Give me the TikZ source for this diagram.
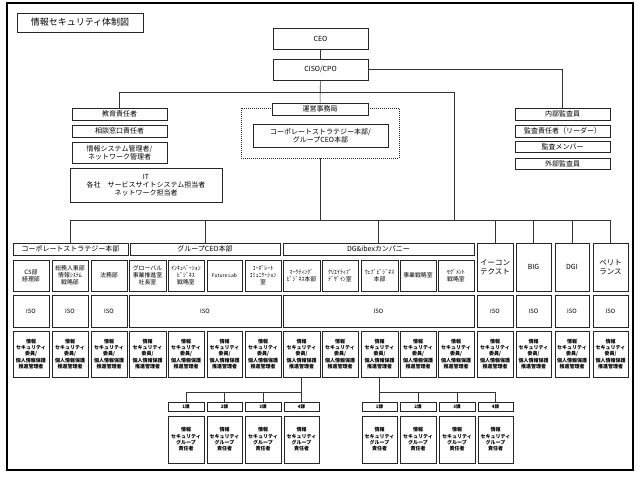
\documentclass[tikz,border=0pt]{standalone}
\usepackage{fontspec}
\setmainfont{Noto Sans CJK JP}
\tikzset{
  box/.style={draw=black!85, line width=0.6pt, fill=white, inner sep=0pt, outer sep=0pt,
    align=center, font=\fontsize{7}{8.2}\selectfont},
  dept/.style={font=\fontsize{5.9}{7}\selectfont},
  info/.style={font=\bfseries\fontsize{5}{6.4}\selectfont},
  sub/.style={font=\bfseries\fontsize{4.5}{5}\selectfont},
  ln/.style={draw=black!80, line width=0.6pt},
}
\newcommand\bx[7][]{\node[box,minimum width={(#5-#3)*1pt},minimum height={(#6-#4)*1pt},#1] (#2) at ({(#3+#5)/2},{(#4+#6)/2}) {#7};}
\begin{document}
\begin{tikzpicture}[x=1pt,y=-1pt]
\useasboundingbox (0,0) rectangle (640,480);
\draw[line width=1.3pt] (7,3) rectangle (633,470);
% title
\bx[font=\fontsize{9}{10}\selectfont]{title}{17}{13}{143}{32}{情報セキュリティ体制図}
% top
\bx{ceo}{273}{28}{368}{49}{CEO}
\bx{ciso}{273}{59}{368}{80}{CISO/CPO}
% left
\bx{kyoiku}{72}{108}{167}{120}{教育責任者}
\bx{soudan}{72}{125}{167}{137}{相談窓口責任者}
\bx{joho}{72}{142}{167}{163}{情報システム管理者/\\ネットワーク管理者}
\bx{it}{70}{168}{222}{202}{IT\\各社　サービスサイトシステム担当者\\ネットワーク担当者}
% center
\bx[dash pattern=on 1pt off 1pt]{dash}{241}{108}{399}{158}{}
\bx{unei}{272}{103}{368}{115}{運営事務局}
\bx{csbox}{253}{124}{388}{147}{コーポレートストラテジー本部/\\グループCEO本部}
% right
\bx{naibu}{515}{108}{610}{120}{内部監査員}
\bx{kansa}{515}{125}{610}{137}{監査責任者（リーダー）}
\bx{member}{515}{141}{610}{152}{監査メンバー}
\bx{gaibu}{515}{158}{610}{169}{外部監査員}
% headers
\bx{h1}{13}{243}{128}{255}{コーポレートストラテジー本部}
\bx{h2}{130}{243}{280}{255}{グループCEO本部}
\bx{h3}{283}{243}{474}{255}{DG\&ibexカンパニー}
\bx[font=\fontsize{7.5}{9}\selectfont]{r1}{477}{243}{513}{291}{イーコン\\テクスト}
\bx[font=\fontsize{7}{9}\selectfont]{r2}{516}{243}{551}{291}{BIG}
\bx[font=\fontsize{7}{9}\selectfont]{r3}{555}{243}{589}{291}{DGI}
\bx[font=\fontsize{7.5}{9}\selectfont]{r4}{593}{243}{628}{291}{ベリト\\ランス}
% departments
\bx[dept]{d0}{13}{260}{49}{291}{CS部\\経理部}
\bx[dept]{d1}{52}{260}{88}{291}{総務人事部\\情報ｼｽﾃﾑ\\戦略部}
\bx[dept]{d2}{91}{260}{127}{291}{法務部}
\bx[dept]{d3}{129}{260}{166}{291}{グローバル\\事業推進室\\社長室}
\bx[dept]{d4}{168}{260}{204}{291}{ｲﾝｷｭﾍﾞｰｼｮﾝ\\ﾋﾞｼﾞﾈｽ\\戦略室}
\bx[dept,font=\fontsize{5}{6}\selectfont]{d5}{207}{260}{242}{291}{Future Lab}
\bx[dept]{d6}{245}{260}{281}{291}{ｺｰﾎﾟﾚｰﾄ\\ｺﾐｭﾆｹｰｼｮﾝ\\室}
\bx[dept]{d7}{283}{260}{320}{291}{ﾏｰｹﾃｨﾝｸﾞ\\ﾋﾞｼﾞﾈｽ本部}
\bx[dept]{d8}{322}{260}{358}{291}{ｸﾘｴｲﾃｨﾌﾞ\\ﾃﾞｻﾞｲﾝ室}
\bx[dept]{d9}{361}{260}{398}{291}{ｳｪﾌﾞﾋﾞｼﾞﾈｽ\\本部}
\bx[dept]{d10}{400}{260}{436}{291}{事業戦略室}
\bx[dept]{d11}{438}{260}{474}{291}{ｾｸﾞﾒﾝﾄ\\戦略室}
% ISO
\bx[dept]{i0}{13}{295}{49}{327}{ISO}
\bx[dept]{i1}{52}{295}{88}{327}{ISO}
\bx[dept]{i2}{91}{295}{127}{327}{ISO}
\bx[dept]{i3}{129}{295}{281}{327}{ISO}
\bx[dept]{i4}{283}{295}{474}{327}{ISO}
\bx[dept]{i5}{477}{295}{513}{327}{ISO}
\bx[dept]{i6}{516}{295}{551}{327}{ISO}
\bx[dept]{i7}{555}{295}{589}{327}{ISO}
\bx[dept]{i8}{593}{295}{628}{327}{ISO}
% info row
\foreach \a/\b [count=\k] in {13/49,52/88,91/127,129/166,168/204,207/242,245/281,283/320,322/358,361/398,400/436,438/474,477/513,516/551,555/589,593/628}{
  \bx[info]{m\k}{\a}{331}{\b}{377}{情報\\セキュリティ\\委員/\\個人情報保護\\推進管理者}
}
% groups
\foreach \a/\b [count=\k] in {168/204,207/242,245/281,284/319,362/397,400/436,439/475,478/513}{
  \pgfmathtruncatemacro\gi{mod(\k-1,4)+1}
  \bx[sub]{g\k}{\a}{402}{\b}{411}{\gi 課}
  \bx[info]{t\k}{\a}{416}{\b}{463}{情報\\セキュリティ\\グループ\\責任者}
}
% connectors
\coordinate (ja) at (119,92);
\coordinate (jb) at (454,92);
\coordinate (bus) at (0,220);
\coordinate (busL) at (0,392);
\draw[ln] (ceo) -- (ciso);
\draw[ln] (ciso) -- (unei);
\draw[ln] (ciso.east) -| (naibu.north);
\draw[ln] (kyoiku.north) |- (jb) -- (jb |- bus);
\draw[ln] (dash.south) -- (dash.south |- bus);
\draw[ln] (h1.north |- bus) -- (r4.north |- bus);
\foreach \n in {h1,h2,h3,r1,r2,r3,r4} \draw[ln] (\n.north |- bus) -- (\n.north);
\draw[ln] (m8.south) -- (g4.north);
\draw[ln] (g1.north |- busL) -- (g4.north |- busL);
\foreach \n in {g1,g2,g3} \draw[ln] (\n.north |- busL) -- (\n.north);
\draw[ln] (m10.south) -- (g5.north);
\draw[ln] (g5.north |- busL) -- (g8.north |- busL);
\foreach \n in {g6,g7,g8} \draw[ln] (\n.north |- busL) -- (\n.north);
\end{tikzpicture}
\end{document}
